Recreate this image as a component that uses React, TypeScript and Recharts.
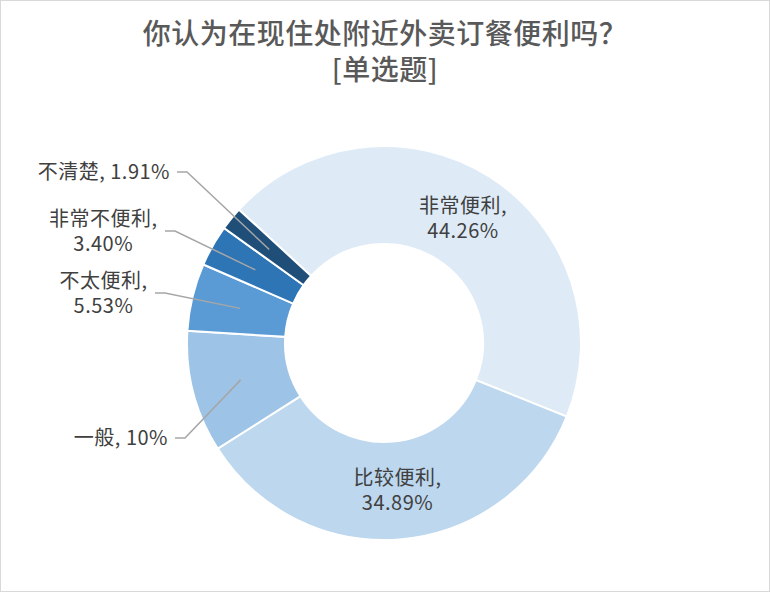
import { PieChart, Pie, Cell } from "recharts";

const categories = ["非常便利", "比较便利", "一般", "不太便利", "非常不便利", "不清楚"];
const percents = [44.26, 34.89, 10, 5.53, 3.4, 1.91];
const percentLabels = ["44.26%", "34.89%", "10%", "5.53%", "3.40%", "1.91%"];
const colors = ["#DEEBF7", "#BDD7EE", "#9DC3E6", "#5B9BD5", "#2E75B6", "#1F4E79"];

// label placement: inside slice, or outside with an elbow offset from the centre
const labelLayout = [
  { inside: true },
  { inside: true },
  { inside: false, dx: -199, dy: 95, oneLine: true },
  { inside: false, dx: -219, dy: -50, oneLine: false },
  { inside: false, dx: -209, dy: -112, oneLine: false },
  { inside: false, dx: -197, dy: -171, oneLine: true },
];

const data = categories.map((name, i) => ({ name, value: percents[i], label: percentLabels[i] }));

const RAD = Math.PI / 180;
const textColor = "#404040";
const fontSize = 20;

function renderLabel(props: any) {
  const { cx, cy, midAngle, innerRadius, outerRadius, index } = props;
  const d = data[index];
  const lay = labelLayout[index];
  const r = (innerRadius + outerRadius) / 2;
  const px = cx + r * Math.cos(-midAngle * RAD);
  const py = cy + r * Math.sin(-midAngle * RAD);
  const style = {
    fontSize,
    fill: textColor,
    letterSpacing: 0.5,
    fontFamily: "'Noto Sans CJK SC', 'Noto Sans', sans-serif",
  };

  if (lay.inside) {
    return (
      <g>
        <text x={px} y={py - 5} textAnchor="middle" style={style}>{d.name},</text>
        <text x={px} y={py + 20} textAnchor="middle" style={style}>{d.label}</text>
      </g>
    );
  }

  const ex = cx + (lay.dx as number);
  const ey = cy + (lay.dy as number);
  const hx = ex - 10;
  const right = hx - 7;
  // centre of a two-line label, from the width of its first line
  const w = d.name.length * (fontSize + 0.5) + 7;
  const mid = right - w / 2;
  return (
    <g>
      <polyline points={`${px},${py} ${ex},${ey} ${hx},${ey}`} fill="none" stroke="#A6A6A6" strokeWidth={1.5} />
      {lay.oneLine ? (
        <text x={right} y={ey + 7} textAnchor="end" style={style}>
          {d.name}, {d.label}
        </text>
      ) : (
        <g>
          <text x={mid} y={ey - 5} textAnchor="middle" style={style}>{d.name},</text>
          <text x={mid} y={ey + 20} textAnchor="middle" style={style}>{d.label}</text>
        </g>
      )}
    </g>
  );
}

export default function App() {
  const start = 137.4;
  return (
    <div style={{ position: "absolute", left: 0, top: 0, width: 770, height: 592, background: "#fff" }}>
      <div
        style={{
          position: "absolute",
          left: 0,
          top: 0,
          width: 768,
          height: 590,
          border: "1px solid #D9D9D9",
        }}
      />
      <div
        style={{
          position: "absolute",
          left: 0,
          top: 14,
          width: 770,
          textAlign: "center",
          color: "#595959",
          fontSize: 28,
          fontWeight: 500,
          lineHeight: "36px",
          letterSpacing: 0.5,
          fontFamily: "'Noto Sans CJK SC', sans-serif",
        }}
      >
        <div>你认为在现住处附近外卖订餐便利吗？</div>
        <div>[单选题]</div>
      </div>
      <div style={{ position: "absolute", left: 0, top: 0 }}>
        <PieChart width={770} height={592} margin={{ top: 0, right: 0, bottom: 0, left: 0 }}>
          <Pie
            data={data}
            dataKey="value"
            nameKey="name"
            cx={384}
            cy={343}
            innerRadius={99}
            outerRadius={197}
            startAngle={start}
            endAngle={start - 360}
            stroke="#fff"
            strokeWidth={2}
            label={renderLabel}
            labelLine={false}
            isAnimationActive={false}
          >
            {data.map((d, i) => (
              <Cell key={d.name} fill={colors[i]} />
            ))}
          </Pie>
        </PieChart>
      </div>
    </div>
  );
}
